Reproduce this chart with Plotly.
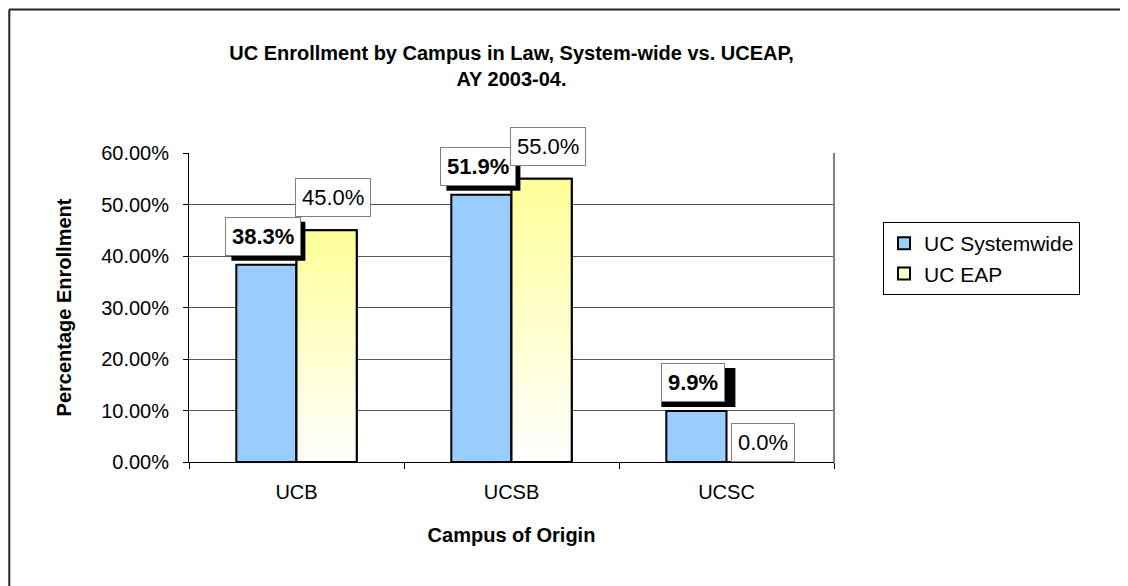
import plotly.graph_objects as go

campuses = ["UCB", "UCSB", "UCSC"]
systemwide = [0.383, 0.519, 0.099]
eap = [0.450, 0.550, 0.000]
series_names = ["UC Systemwide", "UC EAP"]
title_text = "UC Enrollment by Campus in Law, System-wide vs. UCEAP,<br>AY 2003-04."
x_title = "Campus of Origin"
y_title = "Percentage Enrollment"

BLUE = "#99CCFF"
YELLOW = "#FFFF99"
FONT = "Liberation Sans, Arial, sans-serif"
BAR_W = 0.28  # each bar width in category units (bargap 0.44)

fig = go.Figure()

fig.add_trace(go.Bar(
    x=campuses, y=systemwide, name=series_names[0],
    marker=dict(color=BLUE, line=dict(color="black", width=2)),
))
fig.add_trace(go.Bar(
    x=campuses, y=eap, name=series_names[1],
    marker=dict(color="#FFFFCC", line=dict(color="black", width=2)),
))

# gradient overlay for the EAP bars (drawn on a hidden numeric overlay axis)
for i, v in enumerate(eap):
    if v <= 0:
        continue
    x0, x1 = i, i + BAR_W
    fig.add_trace(go.Scatter(
        x=[x0, x1, x1, x0, x0], y=[0, 0, v, v, 0],
        xaxis="x2", mode="lines", fill="toself",
        line=dict(color="black", width=2),
        fillgradient=dict(type="vertical",
                          colorscale=[[0, "#FFFFFF"], [1, YELLOW]]),
        showlegend=False, hoverinfo="skip",
    ))

LABEL_SIZE = 22
PAD = 6
BOX_W, BOX_H = 74, 39
annotations = []
shapes = []
for i, v in enumerate(systemwide):
    xa = i - BAR_W / 2
    # drop shadow behind the bold label box
    shapes.append(dict(type="rect", xref="x2", yref="y",
                       xsizemode="pixel", ysizemode="pixel",
                       xanchor=xa, yanchor=v,
                       x0=-BOX_W / 2 - 3 + 5, x1=BOX_W / 2 - 3 + 5,
                       y0=9 - 5, y1=9 + BOX_H - 5,
                       fillcolor="black", line=dict(width=0), layer="above"))
    annotations.append(dict(
        xref="x2", yref="y", x=xa, y=v,
        xanchor="center", yanchor="bottom", showarrow=False,
        font=dict(family=FONT, size=LABEL_SIZE, color="black"),
        borderpad=PAD, borderwidth=1, bordercolor="#808080", bgcolor="white",
        text=f"<b>{v*100:.1f}%</b>", xshift=-3, yshift=9))
for i, v in enumerate(eap):
    annotations.append(dict(
        xref="x2", yref="y", x=i + BAR_W / 2, y=v,
        xanchor="center", yanchor="bottom", showarrow=False,
        font=dict(family=FONT, size=LABEL_SIZE, color="black"),
        borderpad=PAD, borderwidth=1, bordercolor="#808080", bgcolor="white",
        text=f"{v*100:.1f}%", xshift=6, yshift=13 if v > 0 else 0))

shapes += [
    dict(type="line", xref="paper", yref="paper", x0=-0.2786, x1=1.6,
         y0=1.4644, y1=1.4644, line=dict(color="#222", width=2)),
    dict(type="line", xref="paper", yref="paper", x0=-0.2786, x1=-0.2786,
         y0=1.4644, y1=-0.6, line=dict(color="#222", width=2)),
    dict(type="line", xref="paper", yref="paper", x0=1, x1=1,
         y0=0, y1=1, line=dict(color="#808080", width=2)),
]

fig.update_layout(
    width=1128, height=586,
    margin=dict(l=181, r=302, t=145, b=132),
    paper_bgcolor="white", plot_bgcolor="white",
    font=dict(family=FONT, size=20, color="black"),
    title=dict(text=f"<b>{title_text}</b>", x=0.5, xref="paper",
               xanchor="center", y=1 - 52 / 586, yanchor="top",
               yref="container", font=dict(size=20)),
    barmode="group", bargap=0.44, bargroupgap=0,
    xaxis=dict(type="category", range=[-0.5, 2.5], tickson="boundaries",
               ticks="outside", ticklen=6, tickcolor="black",
               showline=True, linecolor="black", linewidth=1,
               ticklabelstandoff=12,
               title=dict(text=f"<b>{x_title}</b>", standoff=25,
                          font=dict(size=20))),
    xaxis2=dict(overlaying="x", range=[-0.5, 2.5], visible=False),
    yaxis=dict(range=[0, 0.6], dtick=0.1, tickformat=".2%",
               ticks="outside", ticklen=5, tickcolor="black",
               showline=True, linecolor="black", linewidth=1,
               showgrid=True, gridcolor="#555", gridwidth=1,
               zeroline=False, ticklabelstandoff=10,
               title=dict(text=f"<b>{y_title}</b>", standoff=24,
                          font=dict(size=20))),
    legend=dict(x=1.076, y=0.7767, xanchor="left", yanchor="top",
                bordercolor="black", borderwidth=1, bgcolor="white",
                font=dict(size=21), tracegroupgap=0, itemwidth=30),
    annotations=annotations,
    shapes=shapes,
)

fig.write_html("out.html")
